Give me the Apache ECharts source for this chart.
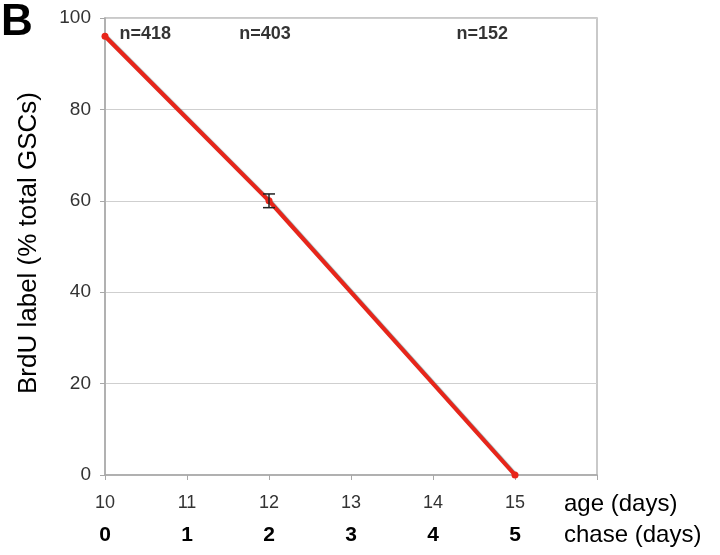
<!DOCTYPE html>
<html><head><meta charset="utf-8">
<script src="https://cdn.jsdelivr.net/npm/echarts@6/dist/echarts.min.js"></script>
<style>html,body{margin:0;padding:0;background:#fff}#c{width:720px;height:555px}</style>
</head><body><div id="c"></div>
<script>
const ageDays = [10, 12, 15];
const brduPct = [96, 60, 0];
const errLow = [null, 58.5, null];
const errHigh = [null, 61.5, null];
const ageTicks = [10, 11, 12, 13, 14, 15];
const chaseTicks = [0, 1, 2, 3, 4, 5];
const nLabels = ['n=418', 'n=403', 'n=152'];
const nLabelAge = [10.49, 11.95, 14.6];

const chart = echarts.init(document.getElementById('c'), null, {renderer: 'canvas'});
const lineData = ageDays.map((a, i) => [a, brduPct[i]]);
const errData = [];
ageDays.forEach((a, i) => { if (errLow[i] != null) errData.push([a, errLow[i], errHigh[i]]); });
const nData = nLabels.map((t, i) => ({value: [nLabelAge[i], 96.5], name: t}));

chart.setOption({
  animation: false,
  backgroundColor: '#fff',
  grid: {left: 105, right: 123, top: 18, bottom: 80, show: true, borderColor: '#b8b8b8', borderWidth: 1.5},
  xAxis: [{
    type: 'value', min: 10, max: 16, interval: 1, position: 'bottom',
    axisLine: {show: true, lineStyle: {color: '#a8a8a8', width: 1.5}},
    axisTick: {show: true, length: 5, lineStyle: {color: '#a8a8a8'}},
    splitLine: {show: false},
    axisLabel: {color: '#333', fontSize: 18, fontFamily: 'Liberation Sans', margin: 19,
      formatter: v => ageTicks.indexOf(v) >= 0 ? String(v) : ''}
  }, {
    type: 'value', min: 0, max: 6, interval: 1, position: 'bottom', offset: 40,
    axisLine: {show: false}, axisTick: {show: false}, splitLine: {show: false},
    axisLabel: {color: '#000', fontSize: 21, fontWeight: 'bold', fontFamily: 'Liberation Sans', margin: 10,
      formatter: v => chaseTicks.indexOf(v) >= 0 ? String(v) : ''}
  }],
  yAxis: {
    type: 'value', min: 0, max: 100, interval: 20,
    axisLine: {show: true, lineStyle: {color: '#a8a8a8', width: 1.5}},
    axisTick: {show: true, length: 5, lineStyle: {color: '#a8a8a8'}},
    splitLine: {show: true, lineStyle: {color: '#cfcfcf', width: 1}},
    axisLabel: {color: '#333', fontSize: 19, fontFamily: 'Liberation Sans', margin: 14}
  },
  graphic: [
    {type: 'text', left: 1, top: 1, style: {text: 'B', font: 'bold 44px Liberation Sans', fill: '#000'}},
    {type: 'text', x: 29, y: 243, rotation: Math.PI / 2,
      style: {text: 'BrdU label (% total GSCs)', font: '26px Liberation Sans', fill: '#000', textAlign: 'center', textVerticalAlign: 'middle'}},
    {type: 'text', x: 564, y: 504, style: {text: 'age (days)', font: '24px Liberation Sans', fill: '#000', textVerticalAlign: 'middle'}},
    {type: 'text', x: 564, y: 535, style: {text: 'chase (days)', font: '24px Liberation Sans', fill: '#000', textVerticalAlign: 'middle'}}
  ],
  series: [{
    type: 'line', data: lineData, xAxisIndex: 0,
    symbol: 'circle', symbolSize: 7,
    itemStyle: {color: '#e8251a'},
    lineStyle: {color: '#e8251a', width: 4, shadowColor: 'rgba(90,100,100,0.8)', shadowOffsetX: 2, shadowOffsetY: 1.5, shadowBlur: 1},
    z: 3
  }, {
    type: 'custom', xAxisIndex: 0, data: errData, z: 4,
    renderItem: (params, api) => {
      const x = api.coord([api.value(0), api.value(1)])[0];
      const yl = api.coord([api.value(0), api.value(1)])[1];
      const yh = api.coord([api.value(0), api.value(2)])[1];
      const st = {stroke: '#222', lineWidth: 1.5};
      return {type: 'group', children: [
        {type: 'line', shape: {x1: x, y1: yl, x2: x, y2: yh}, style: st},
        {type: 'line', shape: {x1: x - 6, y1: yl, x2: x + 6, y2: yl}, style: st},
        {type: 'line', shape: {x1: x - 6, y1: yh, x2: x + 6, y2: yh}, style: st}
      ]};
    }
  }, {
    type: 'scatter', xAxisIndex: 0, data: nData, symbolSize: 0, z: 5,
    label: {show: true, position: 'inside', formatter: p => p.name, color: '#000', fontSize: 18, fontWeight: 'bold', fontFamily: 'Liberation Sans'}
  }]
});
</script></body></html>
